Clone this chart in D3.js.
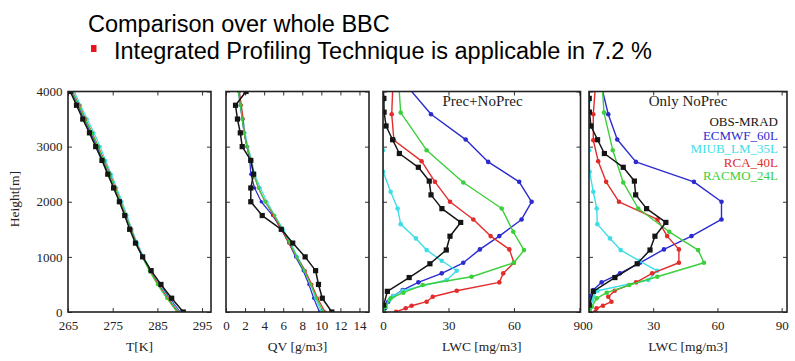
<!DOCTYPE html>
<html><head><meta charset="utf-8">
<script src="https://cdn.jsdelivr.net/npm/d3@7"></script>
<style>
html,body{margin:0;padding:0;background:#fff;}
svg{display:block;}
.tick text{font-family:"Liberation Serif","Times New Roman",serif;font-size:13px;fill:#222;}
</style></head>
<body>
<svg id="c" width="795" height="361"></svg>
<script>
// ---------- data ----------
const titleLine1 = "Comparison over whole BBC";
const titleLine2 = "Integrated Profiling Technique is applicable in 7.2 %";
const seriesNames = ["OBS-MRAD", "ECMWF_60L", "MIUB_LM_35L", "RCA_40L", "RACMO_24L"];
const seriesColors = ["#151515", "#2b2bd0", "#3fdde6", "#e22b2b", "#3ccf3c"];
const heightTicks = [0, 1000, 2000, 3000, 4000];
const tTicks = [265, 275, 285, 295];
const qvTicks = [0, 2, 4, 6, 8, 10, 12, 14];
const lwcTicks = [0, 30, 60, 90];
const panelXLabels = ["T[K]", "QV [g/m3]", "LWC [mg/m3]", "LWC [mg/m3]"];
const panelTitles = ["", "", "Prec+NoPrec", "Only NoPrec"];

// Temperature / humidity profiles (height levels in m)
const levelsTQ = [0, 250, 500, 750, 1000, 1250, 1500, 1750, 2000, 2250, 2500, 2750, 3000, 3250, 3500, 3750, 4000];
const obsT    = [290.8, 288.2, 285.8, 283.6, 281.7, 280.1, 278.8, 277.7, 276.5, 275.2, 273.9, 272.6, 271.2, 269.8, 268.3, 266.9, 265.5];
const ecmwfT  = [290.1, 287.7, 285.5, 283.5, 281.8, 280.3, 279.0, 277.8, 276.6, 275.4, 274.1, 272.8, 271.5, 270.1, 268.6, 267.2, 265.8];
const miubT   = [289.9, 287.5, 285.4, 283.5, 281.9, 280.5, 279.3, 278.2, 277.1, 275.9, 274.7, 273.4, 272.2, 270.8, 269.3, 267.8, 266.4];
const rcaT    = [289.6, 287.3, 285.2, 283.3, 281.7, 280.3, 279.1, 277.9, 276.8, 275.6, 274.4, 273.1, 271.8, 270.4, 268.9, 267.5, 266.0];
const racmoT  = [289.4, 287.1, 285.0, 283.2, 281.6, 280.2, 279.0, 277.9, 276.7, 275.5, 274.3, 273.0, 271.7, 270.3, 268.8, 267.4, 265.9];

const obsQV   = [11.1, 10.1, 9.7, 9.4, 8.3, 7.0, 5.8, 3.8, 2.6, 2.6, 2.9, 2.6, 1.7, 1.5, 1.2, 1.0, 2.1];
const ecmwfQV = [9.8, 9.2, 8.7, 8.1, 7.3, 6.6, 5.8, 4.9, 3.7, 3.0, 2.6, 2.5, 2.2, 1.9, 1.7, 1.5, 1.3];
const miubQV  = [10.0, 9.4, 8.9, 8.3, 7.5, 6.8, 6.0, 5.1, 4.3, 3.6, 3.0, 2.7, 2.3, 2.0, 1.8, 1.6, 1.4];
const rcaQV   = [10.4, 9.6, 9.0, 8.3, 7.4, 6.6, 5.8, 5.0, 4.1, 3.4, 2.9, 2.6, 2.2, 1.9, 1.8, 1.6, 1.4];
const racmoQV = [10.2, 9.5, 8.9, 8.2, 7.4, 6.7, 5.9, 5.1, 4.1, 3.4, 2.9, 2.6, 2.2, 1.9, 1.7, 1.5, 1.3];

// Liquid water content profiles
const obsLwcH       = [125, 375, 625, 875, 1125, 1375, 1625, 1875, 2125, 2375, 2625, 2875, 3125, 3375, 3625, 3875, 4125];
const obsLwcAll     = [0.3, 2.0, 12.0, 21.5, 29.0, 30.7, 35.6, 27.0, 22.0, 21.2, 16.2, 7.5, 4.4, 1.4, 0.5, 0.4, 0.0];
const obsLwcNoPrec  = [0.1, 2.0, 12.1, 22.5, 28.5, 30.8, 35.9, 26.9, 21.8, 21.2, 16.0, 7.2, 4.0, 0.9, 0.2, 0.1, 0.0];

const ecmwfLwcH      = [10, 67, 187, 290, 398, 538, 701, 893, 1136, 1377, 1679, 1999, 2361, 2723, 3128, 3587, 4100];
const ecmwfLwcAll    = [0.3, 0.9, 2.4, 4.7, 9.0, 16.2, 26.9, 36.8, 44.4, 53.3, 63.5, 68.1, 62.4, 48.2, 37.9, 22.0, 11.0];
const ecmwfLwcNoPrec = [0.2, 0.3, 0.5, 0.8, 2.0, 5.9, 14.5, 23.8, 35.0, 47.9, 61.9, 61.9, 49.0, 21.9, 13.2, 9.0, 5.8];

const miubLwcH      = [96, 217, 290, 386, 580, 748, 929, 1123, 1335, 1594, 1878, 2180, 2542, 2935, 3357, 3828, 4100];
const miubLwcAll    = [1.4, 2.9, 4.7, 9.0, 29.2, 33.8, 26.9, 20.0, 15.1, 8.1, 6.7, 3.5, 0.1, 0.0, 0.0, 0.0, 0.0];
const miubLwcNoPrec = [1.0, 1.5, 2.0, 4.0, 27.7, 31.9, 23.5, 14.8, 9.8, 3.9, 3.6, 2.0, 0.3, 0.1, 0.1, 0.0, 0.0];

const rcaLwcH      = [5, 67, 114, 187, 277, 386, 538, 701, 893, 1136, 1377, 1679, 1999, 2361, 2736, 3116, 3587, 4100];
const rcaLwcAll    = [6.0, 10.4, 13.1, 20.0, 22.8, 33.8, 53.3, 55.1, 60.0, 57.9, 49.3, 41.4, 30.7, 23.8, 17.7, 5.0, 4.0, 4.5];
const rcaLwcNoPrec = [3.0, 3.5, 6.5, 10.5, 9.0, 12.0, 22.0, 29.5, 42.0, 42.0, 36.5, 32.0, 14.0, 8.0, 4.3, 2.0, 2.0, 3.0];

const racmoLwcH      = [0, 96, 248, 350, 489, 640, 893, 1123, 1455, 1878, 2350, 2935, 3617, 4100];
const racmoLwcAll    = [0.0, 0.9, 3.5, 9.3, 18.2, 40.6, 60.0, 64.6, 59.7, 54.4, 36.8, 20.0, 8.1, 7.3];
const racmoLwcNoPrec = [0.0, 1.3, 3.6, 8.3, 18.8, 31.9, 53.7, 51.0, 37.5, 23.0, 16.0, 11.1, 7.0, 6.2];

// ---------- build ----------
const svg = d3.select("#c");
const serif = '"Liberation Serif","Times New Roman",serif';
const sans = '"Liberation Sans",Arial,sans-serif';

// slide header
svg.append("text").attr("x", 88).attr("y", 32).attr("font-family", sans).attr("font-size", 23.5)
  .attr("fill", "#000").text(titleLine1);
svg.append("rect").attr("x", 91).attr("y", 45).attr("width", 5.5).attr("height", 7).attr("fill", "#e8161c");
svg.append("text").attr("x", 114).attr("y", 59).attr("font-family", sans).attr("font-size", 23.5)
  .attr("fill", "#000").text(titleLine2);

const yTop = 91.5, yBot = 312;
const y = d3.scaleLinear().domain([0, 4000]).range([yBot, yTop]);

const panels = [
  {x0: 68,  x1: 211, domain: [265, 297], ticks: tTicks},
  {x0: 226, x1: 369, domain: [0, 15], ticks: qvTicks},
  {x0: 383, x1: 580.5, domain: [0, 90.5], ticks: lwcTicks},
  {x0: 589, x1: 787, domain: [0, 92.5], ticks: lwcTicks}
];

const tSeries = [
  {h: levelsTQ, v: obsT}, {h: levelsTQ, v: ecmwfT}, {h: levelsTQ, v: miubT}, {h: levelsTQ, v: rcaT}, {h: levelsTQ, v: racmoT}
];
const qSeries = [
  {h: levelsTQ, v: obsQV}, {h: levelsTQ, v: ecmwfQV}, {h: levelsTQ, v: miubQV}, {h: levelsTQ, v: rcaQV}, {h: levelsTQ, v: racmoQV}
];
const lwcAllSeries = [
  {h: obsLwcH, v: obsLwcAll}, {h: ecmwfLwcH, v: ecmwfLwcAll}, {h: miubLwcH, v: miubLwcAll}, {h: rcaLwcH, v: rcaLwcAll}, {h: racmoLwcH, v: racmoLwcAll}
];
const lwcNoSeries = [
  {h: obsLwcH, v: obsLwcNoPrec}, {h: ecmwfLwcH, v: ecmwfLwcNoPrec}, {h: miubLwcH, v: miubLwcNoPrec}, {h: rcaLwcH, v: rcaLwcNoPrec}, {h: racmoLwcH, v: racmoLwcNoPrec}
];
const panelSeries = [tSeries, qSeries, lwcAllSeries, lwcNoSeries];

panels.forEach((p, i) => {
  const x = d3.scaleLinear().domain(p.domain).range([p.x0, p.x1]);
  const g = svg.append("g");
  const clipId = "clip" + i;
  svg.append("clipPath").attr("id", clipId).append("rect")
    .attr("x", p.x0).attr("y", yTop).attr("width", p.x1 - p.x0).attr("height", yBot - yTop);

  // axes (ticks inward, mirrored)
  const bottom = d3.axisBottom(x).tickValues(p.ticks).tickFormat(d3.format("d"))
    .tickSizeInner(-4).tickSizeOuter(0).tickPadding(9);
  const top = d3.axisTop(x).tickValues(p.ticks).tickSizeInner(-4).tickSizeOuter(0).tickFormat("");
  const left = d3.axisLeft(y).tickValues(heightTicks).tickFormat(i > 0 ? "" : d3.format("d"))
    .tickSizeInner(-4).tickSizeOuter(0).tickPadding(5.5);
  const right = d3.axisRight(y).tickValues(heightTicks).tickSizeInner(-4).tickSizeOuter(0).tickFormat("");

  const ax = [
    g.append("g").attr("transform", `translate(0,${yBot})`).call(bottom),
    g.append("g").attr("transform", `translate(0,${yTop})`).call(top),
    g.append("g").attr("transform", `translate(${p.x0},0)`).call(left),
    g.append("g").attr("transform", `translate(${p.x1},0)`).call(right)
  ];
  ax.forEach(a => {
    a.select(".domain").remove();
    a.selectAll(".tick line").attr("stroke", "#333").attr("stroke-width", 1);
  });

  // data
  const series = panelSeries[i];
  const big = i >= 2;
  const plot = g.append("g").attr("clip-path", `url(#${clipId})`);
  const order = [1, 2, 3, 4, 0];
  order.forEach(si => {
    const s = series[si];
    const pts = s.h.map((h, k) => [x(s.v[k]), y(h)]);
    const col = seriesColors[si];
    plot.append("path").attr("d", d3.line()(pts)).attr("fill", "none")
      .attr("stroke", col).attr("stroke-width", si === 0 ? 1.5 : (big ? 1.4 : 1.2))
      .attr("stroke-linejoin", "round");
    if (si === 0) {
      plot.selectAll(null).data(pts).enter().append("rect")
        .attr("x", d => d[0] - 2.6).attr("y", d => d[1] - 2.6)
        .attr("width", 5.2).attr("height", 5.2).attr("fill", col);
    } else {
      plot.selectAll(null).data(pts).enter().append("circle")
        .attr("cx", d => d[0]).attr("cy", d => d[1]).attr("r", big ? 2.3 : 1.7).attr("fill", col);
    }
  });

  // frame
  g.append("rect").attr("x", p.x0).attr("y", yTop).attr("width", p.x1 - p.x0).attr("height", yBot - yTop)
    .attr("fill", "none").attr("stroke", "#222").attr("stroke-width", 1.6);

  // x label
  g.append("text").attr("x", (p.x0 + p.x1) / 2).attr("y", 351)
    .attr("text-anchor", "middle").attr("font-family", serif).attr("font-size", 13.5).attr("fill", "#222")
    .text(panelXLabels[i]);

  if (panelTitles[i]) {
    g.append("text").attr("x", i === 2 ? 482.5 : 688).attr("y", 106)
      .attr("text-anchor", "middle").attr("font-family", serif).attr("font-size", 15).attr("fill", "#222")
      .text(panelTitles[i]);
  }
});

// y label
svg.append("text").attr("transform", "translate(19,199) rotate(-90)")
  .attr("text-anchor", "middle").attr("font-family", serif).attr("font-size", 13.5).attr("fill", "#222")
  .text("Height[m]");

// legend
seriesNames.forEach((n, i) => {
  svg.append("text").attr("x", 778).attr("y", 126 + i * 13.5).attr("text-anchor", "end")
    .attr("font-family", serif).attr("font-size", 13).attr("fill", seriesColors[i]).text(n);
});
</script>
</body></html>
